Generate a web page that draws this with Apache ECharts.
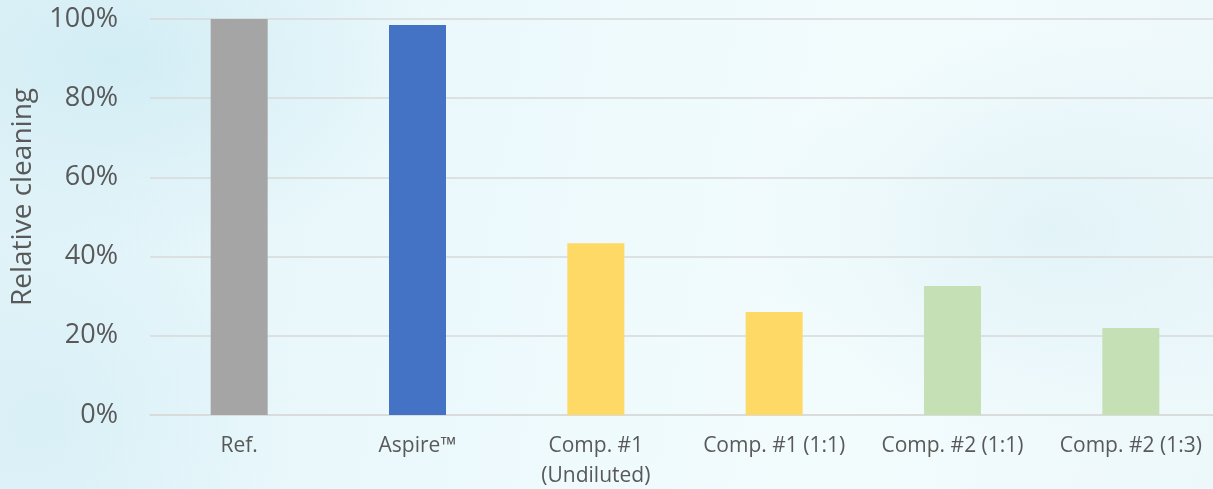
<!DOCTYPE html>
<html>
<head>
<meta charset="utf-8">
<script src="https://cdn.jsdelivr.net/npm/echarts@6/dist/echarts.min.js"></script>
<style>
html,body{margin:0;padding:0;width:1213px;height:489px;overflow:hidden;}
#c{width:1213px;height:489px;background:
radial-gradient(ellipse 320px 200px at 120px 60px, rgba(195,230,240,0.55), rgba(195,230,240,0) 100%),
radial-gradient(ellipse 260px 260px at 40px 420px, rgba(205,235,243,0.5), rgba(205,235,243,0) 100%),
radial-gradient(ellipse 300px 200px at 1050px 230px, rgba(205,232,240,0.4), rgba(205,232,240,0) 100%),
linear-gradient(100deg,#e3f4f9 0%,#ecf9fc 40%,#f3fcfd 70%,#edf8fb 100%);}
</style>
</head>
<body>
<div id="c"></div>
<script>
const categories = ['Ref.', 'Aspire™', 'Comp. #1\n(Undiluted)', 'Comp. #1 (1:1)', 'Comp. #2 (1:1)', 'Comp. #2 (1:3)'];
const values = [100, 98.5, 43.4, 26.0, 32.6, 22.0];
const barColors = ['#A5A5A5', '#4472C4', '#FFD966', '#FFD966', '#C5E0B4', '#C5E0B4'];
const yTicks = [0, 20, 40, 60, 80, 100];
const yTitle = 'Relative cleaning';

const chart = echarts.init(document.getElementById('c'), null, {renderer:'canvas'});
chart.setOption({
  backgroundColor: 'transparent',
  animation: false,
  graphic: [{
    type: 'text',
    x: 23, y: 197,
    rotation: Math.PI / 2,
    style: {text: yTitle, fill: '#595959', font: '28px "Open Sans"', align: 'center', verticalAlign: 'middle'}
  }],
  grid: {left: 150, right: -7, top: 19, bottom: 74, containLabel: false, outerBoundsMode: 'none'},
  xAxis: {
    type: 'category',
    data: categories,
    axisLine: {show: true, lineStyle: {color: '#D9D9D9', width: 1.5}},
    axisTick: {show: false},
    axisLabel: {color: '#595959', fontFamily: 'Open Sans', fontSize: 21, margin: 16, lineHeight: 30, interval: 0}
  },
  yAxis: {
    type: 'value',
    min: yTicks[0], max: yTicks[yTicks.length-1], interval: 20,
    axisLine: {show: false},
    axisTick: {show: false},
    axisLabel: {color: '#595959', fontFamily: 'Open Sans', fontSize: 27, margin: 32, formatter: v => v + '%'},
    splitLine: {lineStyle: {color: '#D9D9D9', width: 1.5}}
  },
  series: [{
    type: 'bar',
    barWidth: 57,
    data: values.map((v, i) => ({value: v, itemStyle: {color: barColors[i]}}))
  }]
});
</script>
</body>
</html>
